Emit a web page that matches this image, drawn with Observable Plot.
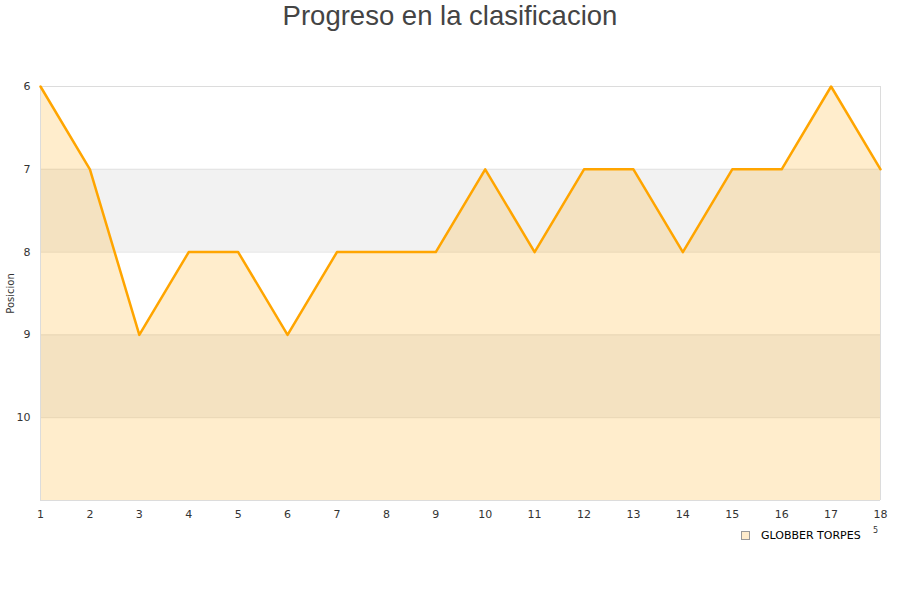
<!DOCTYPE html>
<html>
<head>
<meta charset="utf-8">
<script src="https://cdn.jsdelivr.net/npm/d3@7"></script>
<script src="https://cdn.jsdelivr.net/npm/@observablehq/plot@0.6"></script>
<style>
  html, body { margin: 0; padding: 0; background: #fff; }
  #wrap { position: relative; width: 900px; height: 600px; font-family: "DejaVu Sans", sans-serif; }
  #title { position: absolute; top: 0; left: 0; width: 900px; text-align: center; font-family: "Liberation Sans", Arial, sans-serif; font-size: 27.5px; color: #444; line-height: 32px; }
  #chart { position: absolute; top: 0; left: 0; }
  #legend { position: absolute; top: 529px; left: 741px; font-size: 11px; color: #000; display: flex; align-items: center; }
  #legend .sw { width: 7px; height: 7px; background: #ffeccc; border: 1px solid #999; margin-right: 11px; }
  #note { position: absolute; top: 526px; left: 873px; font-size: 8px; color: #333; }
</style>
</head>
<body>
<div id="wrap">
  <div id="title">Progreso en la clasificacion</div>
  <div id="chart"></div>
  <div id="legend"><span class="sw"></span><span>GLOBBER TORPES</span></div>
  <div id="note">5</div>
</div>
<script>
// Jornadas y posición en la tabla
const jornadas = [1, 2, 3, 4, 5, 6, 7, 8, 9, 10, 11, 12, 13, 14, 15, 16, 17, 18];
const posiciones = [6, 7, 9, 8, 8, 9, 8, 8, 8, 7, 8, 7, 7, 8, 7, 7, 6, 7];
const yTicks = [6, 7, 8, 9, 10];
// Bandas grises alternas (desde, hasta)
const bandaDesde = [7, 9];
const bandaHasta = [8, 10];
const fondo = 11;

const datos = jornadas.map((j, i) => ({jornada: j, pos: posiciones[i]}));
const bandas = bandaDesde.map((d, i) => ({y1: d, y2: bandaHasta[i]}));

const chart = Plot.plot({
  width: 900,
  height: 600,
  marginTop: 86,
  marginBottom: 100,
  marginLeft: 40,
  marginRight: 20,
  style: {fontFamily: "DejaVu Sans, sans-serif", fontSize: "11px", color: "#333", background: "transparent"},
  x: {domain: [1, 18], ticks: jornadas, tickSize: 0, tickPadding: 10, tickFormat: d => String(d), label: null},
  y: {domain: [6, fondo], reverse: true, ticks: yTicks, tickSize: 0, tickPadding: 10, tickFormat: d => String(d), label: null},
  marks: [
    Plot.rect(bandas, {x1: 1, x2: 18, y1: "y1", y2: "y2", fill: "#f2f2f2"}),
    Plot.ruleY([7, 8, 9, 10], {stroke: "#e2e2e2", strokeWidth: 1}),
    Plot.areaY(datos, {x: "jornada", y1: fondo, y2: "pos", fill: "#ffa500", fillOpacity: 0.2}),
    Plot.ruleY([6], {stroke: "#dcdcdc"}),
    Plot.ruleY([fondo], {stroke: "#dcdcdc"}),
    Plot.ruleX([1, 18], {stroke: "#dcdcdc"}),
    Plot.line(datos, {x: "jornada", y: "pos", stroke: "#ffa500", strokeWidth: 2.5}),
    Plot.text(["Posicion"], {frameAnchor: "left", textAnchor: "middle", dx: -30, rotate: -90, fontSize: 10, fill: "#333"})
  ]
});
document.getElementById("chart").appendChild(chart);
</script>
</body>
</html>
